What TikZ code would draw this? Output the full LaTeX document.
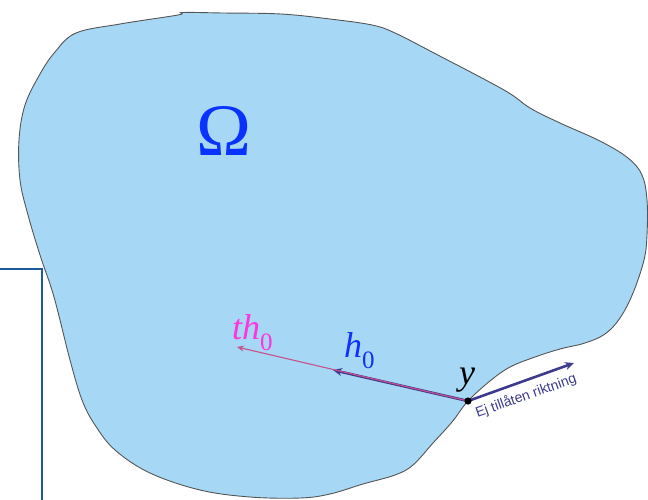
\documentclass[tikz,border=0pt]{standalone}
\usepackage{fontspec}
\setmainfont{Liberation Serif}
\newfontfamily\labelsans{Liberation Sans}
\usetikzlibrary{arrows.meta}
\definecolor{blobfill}{HTML}{A6D8F5}
\definecolor{blobline}{HTML}{555555}
\definecolor{framecol}{HTML}{1A5A98}
\definecolor{omegacol}{HTML}{0A32FF}
\definecolor{hcol}{HTML}{1030FF}
\definecolor{tcol}{HTML}{FF33E0}
\definecolor{tline}{HTML}{C8508C}
\definecolor{darkarrow}{HTML}{3E3A8C}
\newcommand{\lowsub}[1]{\raisebox{-11pt}{\upshape\fontsize{25}{25}\selectfont #1}}
\tikzset{
  blob/.style={fill=blobfill, draw=blobline, line width=0.9pt},
  frameline/.style={draw=framecol, line width=2.5pt},
  mathlabel/.style={font=\fontsize{36}{36}\selectfont\itshape, inner sep=0pt, anchor=base west},
  hvec/.style={draw=darkarrow, line width=2.6pt, -{Stealth[length=9pt,width=8pt,inset=3pt]}},
  tvec/.style={draw=tline, line width=1.1pt, -{Stealth[length=7pt,width=6pt,inset=2.5pt]}},
  evec/.style={draw=darkarrow, line width=2.6pt, -{Stealth[length=9pt,width=8pt,inset=3pt]}},
  elabel/.style={font=\labelsans\fontsize{14}{14}\selectfont, text=darkarrow, inner sep=1pt}
}
\begin{document}
\begin{tikzpicture}[x=1pt,y=-1pt]
\useasboundingbox (0,0) rectangle (648,499);
% domain
\path[blob] plot[smooth cycle, tension=0.6] coordinates {
 (76,33) (120,24) (178,15) (183,12.5) (223,13) (281,14) (330,19) (372,25)
 (395,33) (434,53) (504,90) (530,108) (560,123) (600,141) (628,158)
 (642,175) (647,200) (647,235) (644,260) (633,293) (620,318) (605,334)
 (585,343) (560,349) (535,357) (510,367) (490,381) (468,401) (452,422)
 (433,443) (413,465) (395,475) (363,484) (330,494) (300,498) (250,497)
 (200,490) (150,473) (115,450) (95,425) (82,400) (70,360) (54,297)
 (40,255) (28,215) (20,180) (19,140) (25,105) (40,74) (55,52)};
% left frame
\coordinate (F1) at (0,269);
\coordinate (F2) at (42,501);
\draw[frameline] (F1) -| (F2);
% Omega
\node[font=\fontsize{74}{74}\selectfont, text=omegacol, inner sep=0pt, anchor=base] (omega) at (224,155) {Ω};
% vectors
\coordinate (Y) at (468,401);
\coordinate (H) at (333,370);
\coordinate (T) at (237,347);
\coordinate (E) at (574,363);
\draw[hvec] (Y) -- (H);
\draw[tvec] (Y) -- (T);
\draw[evec] (Y) -- (E);
\node[elabel, rotate=19.5, anchor=center] (elab) at (526,396) {Ej tillåten riktning};
\fill[black] (Y) circle (3.6);
% labels
\node[mathlabel, text=tcol] (thlab) at (232,339) {th\lowsub{0}};
\node[mathlabel, text=hcol] (hlab) at (344,357) {h\lowsub{0}};
\node[mathlabel, text=black] (ylab) at (459,384) {y};
\end{tikzpicture}
\end{document}
